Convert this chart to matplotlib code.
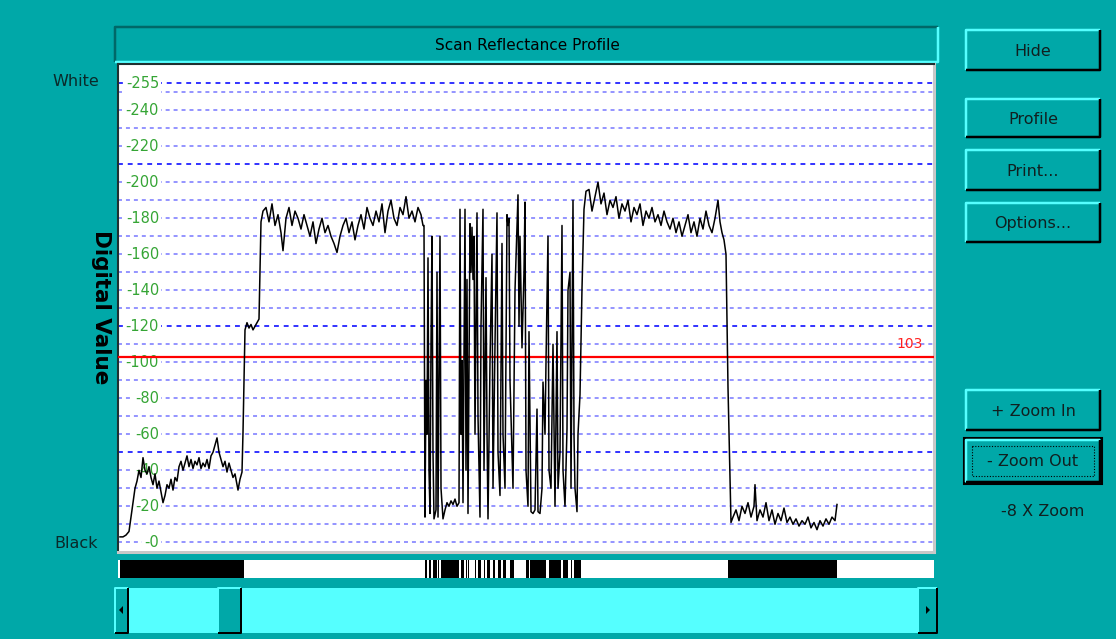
import numpy as np
import matplotlib
matplotlib.use('Agg')
import matplotlib.pyplot as plt
from matplotlib.patches import Rectangle, Polygon

# ---------------- data ----------------
scan_pos = [
    120, 123, 126, 129, 131, 133, 135, 137, 139, 141, 143, 145, 147, 149, 151, 153, 155, 157, 159, 161,
    163, 165, 167, 169, 171, 173, 175, 177, 179, 181, 183, 185, 187, 189, 191, 193, 195, 197, 199, 201,
    203, 205, 207, 209, 211, 213, 215, 217, 219, 221, 223, 225, 227, 229, 231, 233, 235, 237, 238, 240,
    242, 243, 245, 247, 249, 251, 253, 255, 257, 259, 261,
    263, 266, 269, 272, 275, 278, 281, 283, 286, 289, 292, 295, 298, 301, 304, 307, 310, 313, 316, 319,
    322, 325, 328, 331, 334, 337, 340, 343, 346, 349, 352, 355, 358, 361, 364, 367, 370, 373, 376, 379,
    382, 385, 388, 391, 394, 397, 400, 403, 406, 409, 412, 415, 418, 421, 423,
    424, 425, 426, 427, 428, 429, 430, 431, 432, 433, 434, 436, 437, 438, 440, 441, 443, 445, 447, 449,
    451, 453, 455, 457, 459, 460, 461, 462, 463, 465, 466, 467, 468, 470, 471, 472, 473, 474, 475, 477,
    478, 480, 481, 483, 484, 486, 487, 488, 490, 492, 493, 495, 497, 498, 500, 502, 503, 505, 507, 508,
    509, 510, 513, 515, 518, 519, 520, 522, 524, 525, 526, 528, 529, 531, 533, 535, 537, 538, 540, 542,
    543, 545, 546, 548, 549, 551, 553, 555, 557, 558, 560, 562, 563, 565, 567, 568, 570, 571, 573, 574,
    575, 577, 578, 580, 582, 584, 586,
    589, 592, 595, 598, 601, 604, 607, 610, 613, 616, 619, 622, 625, 628, 631, 634, 637, 640, 643, 646,
    649, 652, 655, 658, 661, 664, 667, 670, 673, 676, 679, 682, 685, 688, 691, 694, 697, 700, 703, 706,
    709, 712, 715, 718, 720, 722, 724, 726, 728, 731,
    733, 736, 739, 742, 745, 748, 751, 754, 755, 757, 760, 763, 766, 769, 772, 775, 778, 781, 784, 787,
    790, 793, 796, 799, 802, 805, 808, 811, 814, 817, 820, 823, 826, 829, 832, 835, 837,
]
reflectance = [
    3, 3, 4, 6, 14, 22, 30, 34, 40, 36, 47, 40, 38, 42, 36, 32, 38, 30, 34, 28,
    22, 26, 32, 30, 35, 29, 36, 34, 42, 45, 40, 44, 48, 42, 46, 41, 45, 43, 47, 41,
    44, 42, 46, 41, 48, 50, 54, 58, 50, 46, 42, 45, 39, 44, 40, 36, 38, 32, 29, 35,
    39, 61, 118, 122, 119, 121, 118, 120, 122, 124, 178,
    184, 186, 178, 188, 176, 182, 172, 162, 180, 186, 176, 184, 180, 174, 182, 176, 170, 178, 166, 174,
    180, 172, 176, 170, 166, 161, 170, 176, 180, 172, 178, 168, 176, 182, 174, 186, 180, 176, 184, 178,
    188, 172, 184, 190, 180, 176, 186, 182, 192, 180, 184, 178, 186, 182, 176,
    176, 14, 90, 60, 158, 40, 16, 110, 170, 50, 13, 18, 150, 14, 170, 30, 13, 18, 22, 20,
    23, 21, 24, 20, 22, 185, 60, 101, 22, 185, 40, 146, 16, 177, 150, 175, 146, 170, 60, 183,
    70, 14, 120, 185, 40, 147, 62, 13, 100, 160, 30, 110, 183, 50, 26, 166, 60, 30, 182, 176,
    180, 90, 30, 140, 193, 120, 170, 108, 150, 189, 40, 20, 117, 17, 16, 18, 74, 17, 16, 30,
    89, 60, 100, 170, 40, 30, 110, 20, 117, 30, 50, 176, 40, 20, 63, 140, 150, 30, 190, 60,
    30, 17, 60, 82, 141, 185, 195,
    196, 184, 192, 200, 188, 194, 182, 190, 186, 192, 180, 188, 184, 190, 178, 186, 182, 188, 176, 184,
    180, 186, 178, 182, 176, 184, 178, 174, 180, 172, 178, 170, 176, 182, 172, 178, 170, 180, 174, 184,
    176, 172, 180, 190, 178, 172, 168, 160, 86, 11,
    14, 18, 12, 20, 16, 22, 14, 20, 32, 12, 18, 14, 22, 12, 18, 10, 16, 12, 19, 11,
    14, 10, 13, 9, 12, 10, 14, 8, 11, 7, 12, 9, 13, 10, 14, 12, 21,
]
threshold = 103
grid_levels = list(range(0, 251, 10)) + [255]
label_levels = list(range(0, 241, 20)) + [255]
emph_levels = [50, 120, 210, 255]
title_text = "Scan Reflectance Profile"
y_title = "Digital Value"
top_text, bottom_text = "White", "Black"
button_labels = ["Hide", "Profile", "Print...", "Options...", "+ Zoom In", "- Zoom Out"]
zoom_text = "-8 X Zoom"

# ---------------- figure ----------------
W, H = 1116, 639
TEAL = '#00a8a8'
LIGHT = '#55ffff'
DARK = '#006868'
fig = plt.figure(figsize=(W / 100, H / 100), dpi=100, facecolor=TEAL)

bg = fig.add_axes([0, 0, 1, 1])
bg.set_xlim(0, W)
bg.set_ylim(H, 0)
bg.axis('off')


def frac(l, t, r, b):
    return [l / W, 1 - b / H, (r - l) / W, (b - t) / H]


def bevel(l, t, r, b, raised=True, lw=2.0):
    tl = LIGHT if raised else DARK
    br = 'black' if raised else LIGHT
    bg.plot([l, l, r], [b, t, t], color=tl, lw=lw * 0.72, solid_capstyle='butt')
    bg.plot([l, r, r], [b, b, t], color=br, lw=lw * 0.72, solid_capstyle='butt')


# title frame
bevel(115, 27, 938, 62, raised=False, lw=2.5)
bg.text(527, 45, title_text, ha='center', va='center', fontsize=11, color='black')

# left labels
bg.text(76, 82, top_text, ha='center', va='center', fontsize=11.5, color='#0a2a2a')
bg.text(76, 543, bottom_text, ha='center', va='center', fontsize=11.5, color='#0a2a2a')
bg.text(101, 307, y_title, ha='center', va='center', fontsize=15.5, fontweight='bold',
        rotation=270, color='black')

# buttons
btns = [(30, 70), (99, 137), (150, 190), (203, 242), (390, 430), (440, 482)]
for (t, b), lab in zip(btns, button_labels):
    bg.add_patch(Rectangle((966, t), 134, b - t, facecolor=TEAL, edgecolor='none'))
    bevel(966, t, 1100, b, raised=True, lw=2.5)
    bg.text(1033, (t + b) / 2 + 1, lab, ha='center', va='center', fontsize=11.5, color='#102020')
# focused zoom out button
bg.add_patch(Rectangle((964, 438), 138, 46, facecolor='none', edgecolor='black', lw=1.5))
bg.add_patch(Rectangle((972, 446), 122, 30, facecolor='none', edgecolor='black', lw=0.8,
                       linestyle=(0, (1, 1.5))))
bg.text(1043, 512, zoom_text, ha='center', va='center', fontsize=11.5, color='#102020')

# scrollbar
bg.add_patch(Rectangle((115, 588), 822, 45, facecolor=LIGHT, edgecolor='none'))
for l, r in [(115, 128), (218, 241), (918, 937)]:
    bg.add_patch(Rectangle((l, 588), r - l, 45, facecolor=TEAL, edgecolor='none'))
    bevel(l, 588, r, 633, raised=True, lw=2)
bg.add_patch(Polygon([[119, 610], [123, 606], [123, 614]], closed=True, facecolor='black'))
bg.add_patch(Polygon([[930, 610], [926, 606], [926, 614]], closed=True, facecolor='black'))

# ---------------- main plot ----------------
ax = fig.add_axes(frac(118, 64, 934, 552))
ax.set_facecolor('white')
ax.set_xlim(118, 934)
ax.set_ylim(-5.4, 265.7)
ax.set_xticks([])
ax.set_yticks([])
for s in ['left', 'top']:
    ax.spines[s].set_color('#203030')
    ax.spines[s].set_linewidth(1.5)
for s in ['right', 'bottom']:
    ax.spines[s].set_color('#c8c8c8')
    ax.spines[s].set_linewidth(2.2)

for lv in grid_levels:
    if lv in emph_levels:
        ax.axhline(lv, color='#2a2aff', lw=1.35, dashes=(2.6, 2.6), zorder=1)
    else:
        ax.axhline(lv, color='#7676ff', lw=1.1, dashes=(2.6, 2.6), zorder=1)

for lv in label_levels:
    ax.text(159, lv, '-' + str(lv), ha='right', va='center', fontsize=10.5, color='#35a535',
            zorder=2, bbox=dict(boxstyle='square,pad=0.15', facecolor='white', edgecolor='none'))

ax.axhline(threshold, color='#ff0000', lw=1.6, zorder=3)
ax.text(923, threshold + 7, str(threshold), ha='right', va='center', fontsize=10,
        color='#ff2020', zorder=3)

ax.plot(scan_pos, reflectance, color='black', lw=1.1, zorder=4)

# ---------------- threshold strip ----------------
ax2 = fig.add_axes(frac(118, 560, 934, 578))
ax2.set_facecolor('white')
ax2.set_xlim(118, 934)
ax2.set_ylim(0, 1)
ax2.set_xticks([])
ax2.set_yticks([])
for s in ax2.spines.values():
    s.set_visible(False)
xs = np.arange(scan_pos[0], scan_pos[-1] + 0.25, 0.25)
vals = np.interp(xs, scan_pos, reflectance)
ax2.fill_between(xs, 0, 1, where=vals < threshold, color='black', linewidth=0)

fig.savefig('out.png', dpi=100, facecolor=TEAL)
